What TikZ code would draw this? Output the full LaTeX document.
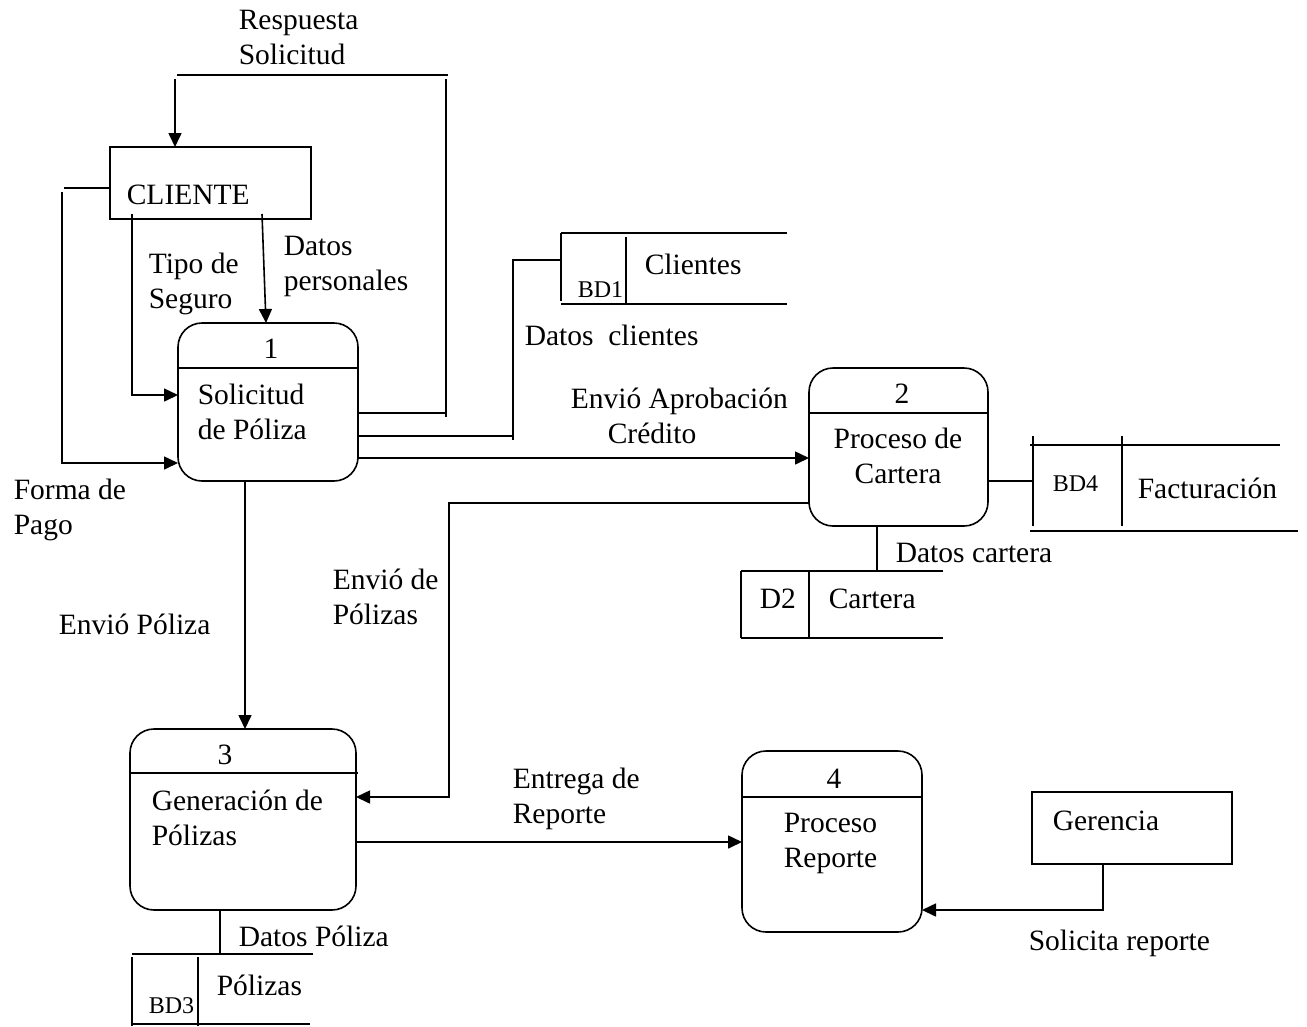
\documentclass[tikz,border=0pt]{standalone}
\usepackage{fontspec}
\setmainfont{Liberation Serif}
\usetikzlibrary{arrows.meta}
\newcommand{\lnsl}[1]{\begin{tabular}[t]{@{}l@{}}#1\end{tabular}}
\newcommand{\lnsc}[1]{\begin{tabular}[t]{@{}c@{}}#1\end{tabular}}
\begin{document}
\begin{tikzpicture}[x=1pt,y=-1pt, line width=1.6pt,
 lab/.style={font=\fontsize{29.5}{35}\selectfont, inner sep=0pt, anchor=base west},
 labc/.style={font=\fontsize{29.5}{35}\selectfont, inner sep=0pt, anchor=base},
 sml/.style={font=\fontsize{24}{28}\selectfont, inner sep=0pt, anchor=base west},
 proc/.style={draw, rounded corners=24pt, anchor=north west, inner sep=0pt, outer sep=0pt},
 extent/.style={draw, anchor=north west, inner sep=0pt, outer sep=0pt},
 storearea/.style={anchor=north west, inner sep=0pt, outer sep=0pt},
 arr/.style={-{Triangle[length=14pt,width=13pt]}}]
\useasboundingbox (0,0) rectangle (1307,1026);
\fill[white] (0,0) rectangle (1307,1026);

% external entities
\node[extent, minimum width=201pt, minimum height=72pt] (cliente) at (110,147) {};
\node[lab] (tcliente) at (126,204) {CLIENTE};
\node[extent, minimum width=200pt, minimum height=72pt] (gerencia) at (1032,792) {};
\node[lab] (tgerencia) at (1052,830) {Gerencia};

% processes
\node[proc, minimum width=180pt, minimum height=158pt] (p1) at (178,323) {};
\draw (p1.west |- 0,368) -- (p1.east |- 0,368);
\node[labc] (n1) at (271,358) {1};
\node[lab] (t1) at (197,404) {\lnsl{Solicitud\\de Póliza}};

\node[proc, minimum width=179pt, minimum height=158pt] (p2) at (809,368) {};
\draw (p2.west |- 0,413) -- (p2.east |- 0,413);
\node[labc] (n2) at (902,403) {2};
\node[labc] (t2) at (898,448) {\lnsc{Proceso de\\Cartera}};

\node[proc, minimum width=226pt, minimum height=181pt] (p3) at (130,729) {};
\draw (p3.west |- 0,773) -- (358,773);
\node[labc] (n3) at (225,764) {3};
\node[lab] (t3) at (151,810) {\lnsl{Generación de\\Pólizas}};

\node[proc, minimum width=180pt, minimum height=181pt] (p4) at (742,751) {};
\draw (p4.west |- 0,797) -- (p4.east |- 0,797);
\node[labc] (n4) at (834,788) {4};
\node[lab] (t4) at (783,832) {\lnsl{Proceso\\Reporte}};

% data stores
\node[storearea, minimum width=226pt, minimum height=71pt] (bd1) at (561,233) {};
\draw (bd1.north west) -- (bd1.north east);
\draw (bd1.south west) -- (bd1.south east);
\draw (bd1.north west) -- (561,301);
\draw (626,237) -- (626,304);
\node[sml] (tbd1) at (577,297) {BD1};
\node[lab] (tclientes) at (644,274) {Clientes};

\node[storearea, minimum width=250pt, minimum height=86pt] (bd4) at (1030,445) {};
\draw (bd4.north west) -- (bd4.north east);
\draw (bd4.south west) -- (1298,531);
\draw (1033,436) -- (1033,526);
\draw (1122,436) -- (1122,526);
\node[sml] (tbd4) at (1052,491) {BD4};
\node[lab] (tfact) at (1137,498) {Facturación};

\node[storearea, minimum width=202pt, minimum height=67pt] (d2) at (741,571) {};
\draw (d2.north west) -- (d2.north east);
\draw (d2.south west) -- (d2.south east);
\draw (d2.north west) -- (d2.south west);
\draw (809,571) -- (809,638);
\node[lab] (td2) at (759,608) {D2};
\node[lab] (tcartera) at (828,608) {Cartera};

\node[storearea, minimum width=181pt, minimum height=70pt] (bd3) at (132,954) {};
\draw (bd3.north west) -- (bd3.north east);
\draw (bd3.south west) -- (310,1024);
\draw (132,957) -- (132,1026);
\draw (198,957) -- (198,1026);
\node[sml] (tbd3) at (148,1013) {BD3};
\node[lab] (tpolizas) at (216,995) {Pólizas};

% connectors
\coordinate (rsA) at (446,417);
\coordinate (rsB) at (446,79);
\draw (p1.east |- 0,413) -- (rsA |- 0,413);
\draw (rsA) -- (rsB);
\coordinate (rsC) at (177,75);
\coordinate (rsD) at (448,75);
\draw (rsC) -- (rsD);
\coordinate (rsE) at (175,79);
\draw[arr] (rsE) -- (cliente.north -| rsE);

\coordinate (fpA) at (64,188);
\draw (cliente.west |- fpA) -- (fpA);
\coordinate (fpB) at (62,192);
\coordinate (fpC) at (62,463);
\draw[arr] (fpB) -- (fpC) -- (p1.west |- fpC);

\coordinate (tsA) at (132,214);
\coordinate (tsB) at (132,395);
\draw[arr] (tsA) -- (tsB) -- (p1.west |- tsB);

\coordinate (dpA) at (262,214);
\draw[arr] (dpA) -- (p1.north -| 266,0);

\coordinate (dcA) at (513,440);
\coordinate (dcB) at (513,260);
\draw (p1.east |- 0,436) -- (dcA |- 0,436);
\draw (dcA) -- (dcB) -- (bd1.west |- dcB);

\draw[arr] (p1.east |- 0,458) -- (p2.west |- 0,458);

\coordinate (epA) at (449,503);
\coordinate (epB) at (449,797);
\draw[arr] (p2.west |- epA) -- (epA) -- (epB) -- (p3.east |- epB);

\draw (p2.east |- 0,481) -- (1033,481);
\draw (p2.south -| 877,0) -- (d2.north -| 877,0);

\draw[arr] (p1.south -| 245,0) -- (p3.north -| 245,0);
\draw[arr] (p3.east |- 0,842) -- (p4.west |- 0,842);
\draw (p3.south -| 220,0) -- (bd3.north -| 220,0);

\coordinate (srA) at (1103,910);
\draw[arr] (gerencia.south -| srA) -- (srA) -- (p4.east |- srA);

% flow labels
\node[lab] (lresp) at (238,29) {\lnsl{Respuesta\\Solicitud}};
\node[lab] (ltipo) at (148,273) {\lnsl{Tipo de\\Seguro}};
\node[lab] (ldatosp) at (283,255) {\lnsl{Datos\\personales}};
\node[lab] (lforma) at (13,499) {\lnsl{Forma de\\Pago}};
\node[lab] (ldatosc) at (524,345) {Datos~~clientes};
\node[lab] (lenvapr) at (570,408) {\lnsl{Envió Aprobación\\\hspace*{37pt}Crédito}};
\node[lab] (ldatoscar) at (895,562) {Datos cartera};
\node[lab] (lenvpols) at (332,589) {\lnsl{Envió de\\Pólizas}};
\node[lab] (lenvpol) at (58,634) {Envió Póliza};
\node[lab] (lentrega) at (512,788) {\lnsl{Entrega de\\Reporte}};
\node[lab] (ldatospol) at (238,946) {Datos Póliza};
\node[lab] (lsolrep) at (1028,950) {Solicita reporte};
\end{tikzpicture}
\end{document}
